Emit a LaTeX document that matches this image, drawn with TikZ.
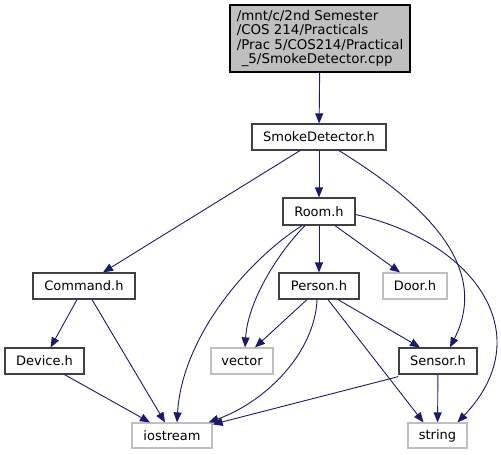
\documentclass[tikz,border=0pt]{standalone}
\usepackage{fontspec}
\setmainfont{DejaVu Sans}
\usetikzlibrary{arrows.meta}
\definecolor{edgeblue}{RGB}{25,25,112}
\definecolor{boxgray}{RGB}{191,191,191}
\definecolor{boxdark}{RGB}{64,64,64}

\begin{document}
\begin{tikzpicture}[x=1pt,y=-1pt,>={Triangle[length=10pt,width=8pt]},
 n/.style={draw=boxdark,line width=1.2pt,fill=white,minimum height=26pt,inner sep=0pt,font=\fontsize{13}{15}\selectfont},
 sys/.style={n,draw=boxgray},
 e/.style={->,draw=edgeblue,line width=0.9pt}]
\useasboundingbox (0,0) rectangle (501,455);
\node[n,fill=boxgray,draw=black,minimum width=180pt,minimum height=67pt,align=left,
 font=\fontsize{13.4}{14.5}\selectfont] (cpp) at (320,38.5)
 {/mnt/c/2nd Semester\\/COS 214/Practicals\\/Prac 5/COS214/Practical\\\hspace{5pt}\_5/SmokeDetector.cpp};
\node[n,minimum width=134pt] (sd) at (319,137) {SmokeDetector.h};
\node[n,minimum width=72pt,minimum height=27pt] (room) at (319,211.5) {Room.h};
\node[n,minimum width=102pt] (cmd) at (84,286) {Command.h};
\node[n,minimum width=80pt] (person) at (319,286) {Person.h};
\node[sys,minimum width=64pt] (door) at (415,286) {Door.h};
\node[n,minimum width=79pt] (device) at (44.5,361) {Device.h};
\node[sys,minimum width=62pt] (vec) at (242,361) {vector};
\node[n,minimum width=78pt] (sensor) at (438,361) {Sensor.h};
\node[sys,minimum width=80pt,minimum height=25pt] (iost) at (172,435.5) {iostream};
\node[sys,minimum width=59pt,minimum height=25pt] (str) at (437.5,435.5) {string};
% straight includes
\draw[e] (cpp) -- (sd);
\draw[e] (sd) -- (room);
\draw[e] ([xshift=-19]sd.south) -- ([xshift=19]cmd.north);
\draw[e] (room) -- (person);
\draw[e] ([xshift=16]room.south) -- ([xshift=-15]door.north);
\draw[e] ([xshift=-12]person.south) -- ([xshift=13]vec.north);
\draw[e] ([xshift=19]person.south) -- ([xshift=-18]sensor.north);
\draw[e] ([xshift=9]person.south) -- ([xshift=-14]str.north);
\draw[e] (sensor) -- (str);
\draw[e] ([yshift=-2]sensor.south west) -- ([yshift=-2]iost.north east);
\draw[e] ([xshift=-7]cmd.south) -- ([xshift=-34]device.north east);
\draw[e] ([xshift=8]cmd.south) -- ([xshift=-7]iost.north);
\draw[e] ([xshift=20]device.south) -- ([xshift=-22]iost.north);
% curved includes
\draw[e] ([xshift=20]sd.south) .. controls +(81,50) and +(42,-83) .. ([xshift=12]sensor.north);
\draw[e] ([xshift=-17]room.south) .. controls +(-55,35) and +(5,-85) .. ([xshift=5]iost.north);
\draw[e] ([xshift=-14]room.south) .. controls +(-25,25) and +(3,-48) .. ([xshift=3]vec.north);
\draw[e] ([yshift=-3]room.east) .. controls +(122,28) and +(82,-86) .. ([xshift=20]str.north);
\draw[e] ([xshift=-2]person.south) .. controls +(-2,51) and +(60,-22) .. ([xshift=-4]iost.north east);
\end{tikzpicture}
\end{document}
